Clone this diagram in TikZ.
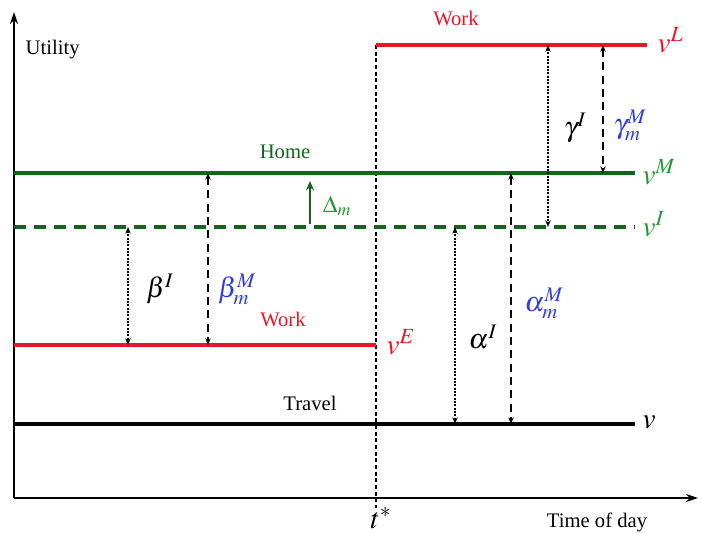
\documentclass[tikz,border=0pt]{standalone}
\usepackage{mathptmx}
\usepackage[no-math]{fontspec}
\setmainfont{Liberation Serif}
\usetikzlibrary{arrows.meta}
\definecolor{wred}{RGB}{235,20,40}
\definecolor{hgreen}{RGB}{20,100,30}
\definecolor{lgreen}{RGB}{40,150,50}
\definecolor{mblue}{RGB}{50,60,220}
\begin{document}
\begin{tikzpicture}[x=0.75pt,y=-0.75pt,
  lvl/.style={line width=2.4pt},
  axis/.style={line width=2pt,-{Stealth[length=9pt,width=6pt]}},
  dimdot/.style={line width=1.5pt,densely dotted,{Stealth[length=5pt,width=4pt]}-{Stealth[length=5pt,width=4pt]}},
  dimdash/.style={line width=1.6pt,dash pattern=on 6pt off 4pt,{Stealth[length=5pt,width=4pt]}-{Stealth[length=5pt,width=4pt]}},
  txt/.style={font=\fontsize{15.5}{18}\selectfont},
  vlab/.style={font=\fontsize{22}{25}\selectfont,anchor=west},
  glab/.style={font=\fontsize{21}{24}\selectfont}]
\useasboundingbox (0,0) rectangle (702,534);
% axes
\coordinate (O) at (14,498);
\coordinate (Ytop) at (14,12);
\coordinate (Xend) at (698,498);
\draw[axis] (O) -- (Ytop);
\draw[axis] (O) -- (Xend);
\node[txt,anchor=west] (util) at (21,50) {Utility};
\node[txt] (tod) at (597,522) {Time of day};
% t* line
\coordinate (tt) at (376,45);
\coordinate (tb) at (376,508);
\draw[line width=1pt,dash pattern=on 3pt off 2pt] (tt) -- (tb);
\node[font=\fontsize{22}{25}\selectfont] (tstar) at (381,518) {$t^{*}$};
% level lines
\coordinate (L1) at (376,45);  \coordinate (L2) at (647,45);
\coordinate (M1) at (14,173);  \coordinate (M2) at (635,173);
\coordinate (I1) at (14,227);  \coordinate (I2) at (635,227);
\coordinate (E1) at (14,345);  \coordinate (E2) at (376,345);
\coordinate (V1) at (14,424);  \coordinate (V2) at (635,424);
\draw[lvl,wred] (L1) -- (L2);
\draw[lvl,hgreen] (M1) -- (M2);
\draw[lvl,hgreen,dash pattern=on 9pt off 6pt] (I1) -- (I2);
\draw[lvl,wred] (E1) -- (E2);
\draw[lvl,black] (V1) -- (V2);
% labels of lines
\node[txt,wred] (work1) at (456,18) {Work};
\node[txt,hgreen] (home) at (285,152) {Home};
\node[txt,wred] (work2) at (283,319) {Work};
\node[txt] (travel) at (310,403) {Travel};
\node[vlab,wred] (vL) at (653,40) {$v^{L}$};
\node[vlab,lgreen] (vM) at (638,172) {$v^{M}$};
\node[vlab,lgreen] (vI) at (638,224) {$v^{I}$};
\node[vlab,wred] (vE) at (382,342) {$v^{E}$};
\node[vlab] (v) at (638,422) {$v$};
% dimension arrows
\coordinate (b1t) at (128,227); \coordinate (b1b) at (128,345);
\coordinate (b2t) at (208,173); \coordinate (b2b) at (208,345);
\coordinate (a1t) at (455,227); \coordinate (a1b) at (455,424);
\coordinate (a2t) at (511,173); \coordinate (a2b) at (511,424);
\coordinate (g1t) at (548,45);  \coordinate (g1b) at (548,227);
\coordinate (g2t) at (603,45);  \coordinate (g2b) at (603,173);
\draw[dimdot] (b1t) -- (b1b);
\draw[dimdash] (b2t) -- (b2b);
\draw[dimdot] (a1t) -- (a1b);
\draw[dimdash] (a2t) -- (a2b);
\draw[dimdot] (g1t) -- (g1b);
\draw[dimdash] (g2t) -- (g2b);
\node[glab] (beI) at (160,289) {$\beta^{I}$};
\node[glab,mblue] (beM) at (237,289) {$\beta^{M}_{m}$};
\node[glab] (alI) at (483,337) {$\alpha^{I}$};
\node[glab,mblue] (alM) at (544,303) {$\alpha^{M}_{m}$};
\node[glab] (gaI) at (575,128) {$\gamma^{I}$};
\node[glab,mblue] (gaM) at (630,125) {$\gamma^{M}_{m}$};
% Delta
\coordinate (d1) at (310,224);
\coordinate (d2) at (310,181);
\draw[hgreen,line width=1.8pt,-{Stealth[length=7pt,width=6pt]}] (d1) -- (d2);
\node[lgreen,font=\fontsize{18}{20}\selectfont] (dm) at (337,206) {$\Delta_{m}$};
\end{tikzpicture}
\end{document}
